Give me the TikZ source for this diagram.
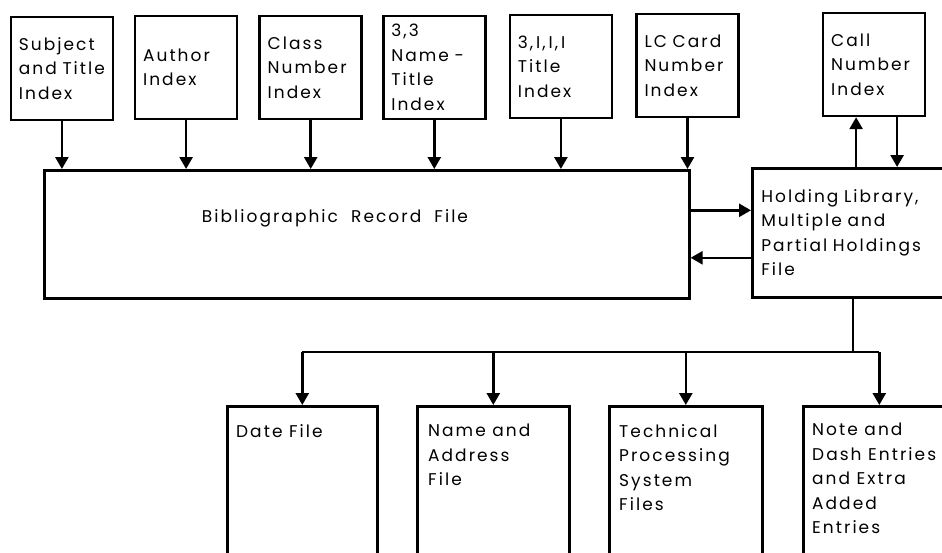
\documentclass[tikz,border=0pt]{standalone}
\usepackage{fontspec}
\setmainfont[LetterSpace=12]{Poppins}
\usepackage{tikz}
\usetikzlibrary{positioning, arrows.meta}

\begin{document}
\begin{tikzpicture}[x=1pt, y=-1pt,
    lbl/.style={font=\fontsize{17}{24.5}\selectfont},
    idx/.style={draw, line width=2.6pt, lbl, anchor=north west, align=left,
                inner xsep=8pt, text width=86pt, minimum height=103pt},
    filebox/.style={draw, line width=2.6pt, anchor=north west, minimum height=170pt},
    ftext/.style={lbl, anchor=north west, align=left, inner sep=0pt},
    arr/.style={-{Triangle[length=12pt, width=13pt]}, line width=2.6pt},
    conn/.style={line width=2.6pt}
  ]
    \clip (0,0) rectangle (942,552);
    % Index files along the top
    \node[idx, line width=1.8pt] (subj) at (10,16) {Subject\\and Title\\Index};
    \node[idx, right=20pt of subj, yshift=1pt] (auth) {Author\\Index};
    \node[idx, right=20pt of auth] (cls) {Class\\Number\\Index};
    \node[idx, right=19pt of cls] (nt) {3,3\\Name -\\Title\\Index};
    \node[idx, right=22pt of nt, yshift=1pt] (ttl) {3,\,I,\,I,\,I\\Title\\Index};
    \node[idx, right=22pt of ttl, yshift=1pt] (lc) {LC Card\\Number\\Index};
    \node[idx, right=82pt of lc, yshift=1pt] (call) {Call\\Number\\Index};
    % Main record files
    \node[filebox, minimum width=645pt, minimum height=128pt] (bib) at (43,169) {};
    \node[lbl] (bibtxt) at (335,218) {Bibliographic\ \ Record\ \ File};
    \node[idx, text width=173pt, minimum height=129pt, inner xsep=9pt] (hold) at (751,167)
      {Holding Library,\\Multiple and\\Partial Holdings\\File};
    % Files along the bottom
    \node[filebox, minimum width=150pt] (date) at (226,405) {};
    \node[filebox, minimum width=152pt] (name) at (416,405) {};
    \node[filebox, minimum width=153pt] (tech) at (608,405) {};
    \node[filebox, minimum width=140pt] (note) at (802,405) {};
    \node[ftext] (datetxt) at ([shift={(10pt,-19pt)}]date.north west) {Date File};
    \node[ftext] (nametxt) at ([shift={(12pt,-19pt)}]name.north west) {Name and\\Address\\File};
    \node[ftext] (techtxt) at ([shift={(11pt,-19pt)}]tech.north west) {Technical\\Processing\\System\\Files};
    \node[ftext] (notetxt) at ([shift={(10pt,-18pt)}]note.north west) {Note and\\Dash Entries\\and Extra\\Added\\Entries};
    % Indexes into the record file
    \foreach \n in {subj,auth,cls,nt,ttl,lc}
      \draw[arr] (\n.south) -- (\n.south |- bib.north);
    % Call number index and holdings
    \coordinate (cup) at ([xshift=-18pt]call.south);
    \coordinate (cdn) at ([xshift=23pt]call.south);
    \draw[arr] (cup |- hold.north) -- (cup);
    \draw[arr] (cdn) -- (cdn |- hold.north);
    % Record file and holdings file
    \coordinate (bh) at ([yshift=24pt]bib.east);
    \coordinate (hb) at ([yshift=-25pt]hold.west);
    \draw[arr] (bh) -- (bh -| hold.west);
    \draw[arr] (hb) -- (hb -| bib.east);
    % Holdings file to the bottom files
    \coordinate (brk) at (853,352);
    \coordinate (nn) at ([xshift=6pt]note.north);
    \draw[conn] (brk |- hold.south) -- (brk);
    \draw[conn] (date.north |- brk) -- (nn |- brk);
    \foreach \n in {date,name,tech}
      \draw[arr] (\n.north |- brk) -- (\n.north);
    \draw[arr] (nn |- brk) -- (nn);
\end{tikzpicture}
\end{document}
